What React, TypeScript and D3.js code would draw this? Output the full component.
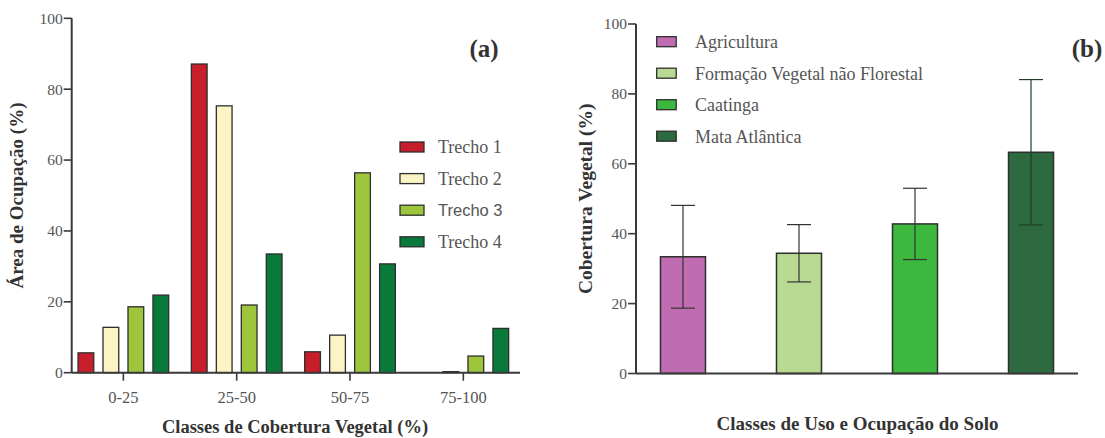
import React from "react";
import * as d3 from "d3";

// ---------- Panel (a) data ----------
const classes = ["0-25", "25-50", "50-75", "75-100"];
const trechos = ["Trecho 1", "Trecho 2", "Trecho 3", "Trecho 4"];
const trecho1 = [5.6, 87.1, 5.9, 0];
const trecho2 = [12.8, 75.3, 10.6, 0.3];
const trecho3 = [18.6, 19.1, 56.4, 4.7];
const trecho4 = [21.9, 33.5, 30.7, 12.5];
const trechoColors = ["#c61f2b", "#fbf5c6", "#9dc63d", "#0a7a3b"];
const yTicks = [0, 20, 40, 60, 80, 100];

// ---------- Panel (b) data ----------
const usos = ["Agricultura", "Formação Vegetal não Florestal", "Caatinga", "Mata Atlântica"];
const coberturaMedia = [33.4, 34.4, 42.8, 63.3];
const coberturaErro = [14.7, 8.2, 10.2, 20.8];
const usoColors = ["#c06cb2", "#b9da92", "#3db83e", "#2d6a3f"];

const SERIF = "'Liberation Serif', 'Times New Roman', serif";
const SANS = "'Liberation Sans', Arial, sans-serif";
const AXIS = "#3a3a3a";
const TICKTXT = "#555";

export default function App() {
  const series = [trecho1, trecho2, trecho3, trecho4];

  // Panel a scales
  const axL = 71.7;
  const axR = 520;
  const yA = d3.scaleLinear().domain([0, 100]).range([372.7, 18.3]);
  const xA = d3.scaleBand<string>().domain(classes).range([66.7, 520]).paddingInner(0.2).paddingOuter(0.1);
  const xAin = d3.scaleBand<string>().domain(trechos).range([0, xA.bandwidth()]).paddingInner(0.37).paddingOuter(0);

  // Panel b scales
  const bxL = 636;
  const bxR = 1078;
  const yB = d3.scaleLinear().domain([0, 100]).range([373.5, 24]);
  const xB = d3.scaleBand<string>().domain(usos).range([bxL, bxR]).paddingInner(0.612).paddingOuter(0.211);

  return (
    <div style={{ position: "absolute", left: 0, top: 0 }}>
      <svg width={1105} height={438} style={{ display: "block", background: "#fff" }}>
        {/* ================= Panel (a) ================= */}
        <g>
          {classes.map((c, i) =>
            trechos.map((t, j) => {
              const v = series[j][i];
              const x = (xA(c) as number) + (xAin(t) as number);
              const y = yA(v);
              const h = yA(0) - y;
              if (v <= 0) return null;
              return (
                <rect
                  key={c + t}
                  x={x}
                  y={y}
                  width={xAin.bandwidth()}
                  height={Math.max(h, 0.8)}
                  fill={trechoColors[j]}
                  stroke="#2e2e2e"
                  strokeWidth={1.3}
                />
              );
            })
          )}
          <line x1={axL} x2={axL} y1={yA(100)} y2={yA(0)} stroke={AXIS} strokeWidth={2} />
          {yTicks.map((t) => (
            <g key={"ya" + t}>
              <line x1={axL - 8} x2={axL} y1={yA(t)} y2={yA(t)} stroke={AXIS} strokeWidth={1.6} />
              <text x={axL - 9} y={yA(t)} dy="0.35em" textAnchor="end" fontFamily={SERIF} fontSize={15.5} fill={TICKTXT}>
                {t}
              </text>
            </g>
          ))}
          <line x1={axL} x2={axR} y1={yA(0)} y2={yA(0)} stroke={AXIS} strokeWidth={2} />
          {classes.map((c) => {
            const cx = (xA(c) as number) + xA.bandwidth() / 2;
            return (
              <g key={"xa" + c}>
                <line x1={cx} x2={cx} y1={yA(0)} y2={yA(0) + 8} stroke={AXIS} strokeWidth={1.6} />
                <text x={cx} y={397} dy="0.35em" textAnchor="middle" fontFamily={SERIF} fontSize={16.5} fill={TICKTXT}>
                  {c}
                </text>
              </g>
            );
          })}
          <text x={295} y={427} dy="0.35em" textAnchor="middle" fontFamily={SERIF} fontWeight="bold" fontSize={18.5} fill="#333">
            Classes de Cobertura Vegetal (%)
          </text>
          <text
            transform={`translate(16,${(yA(0) + yA(100)) / 2}) rotate(-90)`}
            dy="0.35em"
            textAnchor="middle"
            fontFamily={SERIF}
            fontWeight="bold"
            fontSize={19}
            fill="#333"
          >
            Área de Ocupação (%)
          </text>
          <text x={484} y={48} dy="0.35em" textAnchor="middle" fontFamily={SERIF} fontWeight="bold" fontSize={25} fill="#333">
            (a)
          </text>
          {trechos.map((t, j) => {
            const cy = 147 + j * 31.6;
            return (
              <g key={"la" + t}>
                <rect x={400} y={cy - 5} width={24} height={10} fill={trechoColors[j]} stroke="#2e2e2e" strokeWidth={1.3} />
                <text
                  x={438}
                  y={cy}
                  dy="0.35em"
                  fontFamily={j === 2 ? SANS : SERIF}
                  fontSize={j === 2 ? 16.5 : 18}
                  fill={TICKTXT}
                >
                  {t}
                </text>
              </g>
            );
          })}
        </g>

        {/* ================= Panel (b) ================= */}
        <g>
          {usos.map((u, i) => {
            const x = xB(u) as number;
            const w = xB.bandwidth();
            const y = yB(coberturaMedia[i]);
            return (
              <rect
                key={"bb" + u}
                x={x}
                y={y}
                width={w}
                height={yB(0) - y}
                fill={usoColors[i]}
                stroke="#2e2e2e"
                strokeWidth={1.5}
              />
            );
          })}
          {usos.map((u, i) => {
            const cx = (xB(u) as number) + xB.bandwidth() / 2;
            const top = yB(coberturaMedia[i] + coberturaErro[i]);
            const bot = yB(coberturaMedia[i] - coberturaErro[i]);
            const cw = 12;
            const col = i === 3 ? "#1f3f26" : "#333";
            return (
              <g key={"eb" + u} stroke={col} strokeWidth={1.2}>
                <line x1={cx} x2={cx} y1={top} y2={bot} />
                <line x1={cx - cw} x2={cx + cw} y1={top} y2={top} />
                <line x1={cx - cw} x2={cx + cw} y1={bot} y2={bot} />
              </g>
            );
          })}
          <line x1={bxL} x2={bxL} y1={yB(100)} y2={yB(0)} stroke={AXIS} strokeWidth={2} />
          {yTicks.map((t) => (
            <g key={"yb" + t}>
              <line x1={bxL - 8} x2={bxL} y1={yB(t)} y2={yB(t)} stroke={AXIS} strokeWidth={1.6} />
              <text x={bxL - 9} y={yB(t)} dy="0.35em" textAnchor="end" fontFamily={SERIF} fontSize={15.5} fill={TICKTXT}>
                {t}
              </text>
            </g>
          ))}
          <line x1={bxL} x2={bxR} y1={yB(0)} y2={yB(0)} stroke={AXIS} strokeWidth={2} />
          <text x={857.5} y={423} dy="0.35em" textAnchor="middle" fontFamily={SERIF} fontWeight="bold" fontSize={19} fill="#333">
            Classes de Uso e Ocupação do Solo
          </text>
          <text
            transform={`translate(585.5,${(yB(0) + yB(100)) / 2}) rotate(-90)`}
            dy="0.35em"
            textAnchor="middle"
            fontFamily={SERIF}
            fontWeight="bold"
            fontSize={19.5}
            fill="#333"
          >
            Cobertura Vegetal (%)
          </text>
          <text x={1087} y={48} dy="0.35em" textAnchor="middle" fontFamily={SERIF} fontWeight="bold" fontSize={25} fill="#333">
            (b)
          </text>
          {usos.map((u, j) => {
            const cy = 41.7 + j * 31.5;
            return (
              <g key={"lb" + u}>
                <rect x={656.7} y={cy - 5} width={19.5} height={10} fill={usoColors[j]} stroke="#2e2e2e" strokeWidth={1.3} />
                <text x={695} y={cy} dy="0.35em" fontFamily={SERIF} fontSize={18} fill={TICKTXT}>
                  {u}
                </text>
              </g>
            );
          })}
        </g>
      </svg>
    </div>
  );
}
